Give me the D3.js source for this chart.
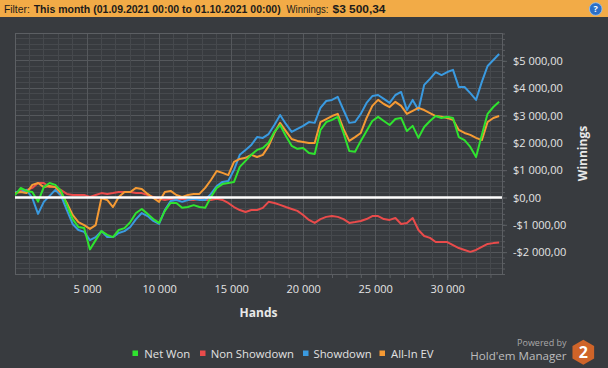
<!DOCTYPE html>
<html><head><meta charset="utf-8">
<script src="https://cdn.jsdelivr.net/npm/d3@7"></script>
<style>html,body{margin:0;padding:0;background:#383b3f;overflow:hidden}</style>
</head><body><svg id="c" width="608" height="368"></svg>
<script>
const hands = [0,400,800,1200,1600,2000,2400,2800,3200,3600,4000,4400,4800,5200,5600,6000,6400,6800,7200,7600,8000,8400,8800,9200,9600,10000,10400,10800,11200,11600,12000,12400,12800,13200,13600,14000,14400,14800,15200,15600,16000,16400,16800,17200,17600,18000,18400,18800,19200,19600,20000,20400,20800,21200,21600,22000,22400,22800,23200,23600,24000,24400,24800,25200,25600,26000,26400,26800,27200,27600,28000,28400,28800,29200,29600,30000,30400,30800,31200,31600,32000,32400,32800,33200,33600];
const netWon = [90,350,240,200,-150,380,530,460,240,-280,
-790,-1080,-1120,-1900,-1560,-1230,-1370,-1450,-1190,-1120,
-900,-570,-420,-600,-790,-930,-490,-200,-200,-380,
-350,-280,-350,-380,20,350,490,530,570,1120,
1340,1560,1740,1810,2000,2400,2650,2250,1890,1780,
1810,1630,1590,2470,2760,2840,2950,2360,1700,1670,
2070,2430,2800,2950,2800,2650,2870,2910,2430,2620,
2180,2580,2800,2980,2910,2950,2910,2210,2100,1850,
1480,2290,3060,3310,3500];
const nonShowdown = [160,240,270,350,530,530,380,380,270,130,
90,90,90,20,90,160,130,160,200,200,
200,160,160,90,20,-50,-90,-50,-90,-50,
-90,-90,-50,-90,-90,-50,-90,-200,-350,-460,
-530,-460,-460,-380,-160,-200,-270,-350,-420,-490,
-640,-820,-930,-790,-710,-680,-710,-790,-930,-900,
-860,-790,-680,-680,-790,-820,-750,-970,-930,-750,
-1190,-1410,-1480,-1630,-1630,-1630,-1740,-1850,-1920,-1990,
-1920,-1810,-1700,-1670,-1650];
const showdown = [200,200,280,-20,-600,-160,60,280,60,-460,
-970,-1190,-1260,-1560,-1450,-1230,-1450,-1450,-1300,-1230,
-1080,-790,-570,-680,-860,-970,-460,-130,-90,-160,
-90,-50,-90,-90,130,420,570,600,1010,1560,
1740,1920,2210,2180,2320,2650,3020,2690,2400,2510,
2620,2760,2730,3280,3530,3570,3680,3200,2730,2760,
3060,3460,3710,3750,3610,3460,3750,3860,3200,3570,
3200,4120,4340,4590,4480,4590,4670,4040,4040,3820,
3570,4230,4810,5030,5250];
const allInEV = [160,200,160,460,530,380,420,380,160,-200,
-640,-900,-1010,-1150,-1010,-20,-90,-350,20,200,
200,350,310,130,-20,-160,200,240,90,20,
90,130,130,350,640,970,900,820,1300,1410,
1450,1560,1480,1560,1880,2360,2730,2430,2140,2070,
2030,1990,1990,2760,2870,2980,3060,2510,2070,2210,
2360,2910,3350,3570,3420,3310,3500,3350,3060,3170,
3280,3200,3090,2980,2950,2910,2840,2470,2360,2290,
2180,2100,2760,2910,2980];
const seriesNames = ["Net Won","Non Showdown","Showdown","All-In EV"];
const seriesColors = ["#2fe32f","#e94b4b","#3a9ae0","#f59a34"];
const xTicks = [5000,10000,15000,20000,25000,30000];
const yTicks = [-2000,-1000,0,1000,2000,3000,4000,5000];
const headerParts = ["Filter:","This month (01.09.2021 00:00 to 01.10.2021 00:00)","Winnings:","$3 500,34"];

const W=608,H=368;
const svg=d3.select('#c');
const L=15,R=502,T=33.5,B=274;
const x=d3.scaleLinear().domain([0,33800]).range([L,R]);
const y=d3.scaleLinear().domain([-2800,6000]).range([B,T]);
const FONT="'Open Sans', 'Noto Sans', sans-serif";

svg.append('rect').attr('width',W).attr('height',H).attr('fill','#383b3f');
// header
svg.append('rect').attr('width',W).attr('height',17).attr('fill','#f2ab47');
const hx=[[3.9,25.9,false],[33.7,247,true],[286.5,42,false],[332.5,53,true]];
headerParts.forEach((t,i)=>{
  svg.append('text').attr('x',hx[i][0]).attr('y',12.6).text(t)
    .attr('font-family',"'Liberation Sans', Arial, sans-serif").attr('font-size',10.3)
    .attr('font-weight',hx[i][2]?'bold':'normal').attr('fill','#1b1b1b')
    .attr('textLength',hx[i][1]).attr('lengthAdjust','spacingAndGlyphs');
});
svg.append('circle').attr('cx',595.7).attr('cy',9).attr('r',6.3).attr('fill','#2b6fc8').attr('stroke','#9cc4f2').attr('stroke-width',0.8);
svg.append('text').attr('x',595.7).attr('y',12.3).attr('text-anchor','middle').text('?')
  .attr('font-family',FONT).attr('font-size',9).attr('font-weight','bold').attr('fill','#fff');

// grid
const grid=svg.append('g');
d3.range(-2800,6001,200).forEach(v=>{
  const major = v%1000===0;
  grid.append('line').attr('x1',L).attr('x2',R).attr('y1',y(v)).attr('y2',y(v))
    .attr('stroke',major?'#55585c':'#46494d').attr('stroke-width',1).attr('shape-rendering','crispEdges');
});
d3.range(1000,33801,1000).forEach(h=>{
  const major = h%5000===0;
  grid.append('line').attr('y1',T).attr('y2',B).attr('x1',x(h)).attr('x2',x(h))
    .attr('stroke',major?'#55585c':'#46494d').attr('stroke-width',1).attr('shape-rendering','crispEdges');
});
svg.append('rect').attr('x',L).attr('y',T).attr('width',R-L).attr('height',B-T)
  .attr('fill','none').attr('stroke','#5c5f63').attr('shape-rendering','crispEdges');

// axes
const loc=d3.formatLocale({decimal:",",thousands:" ",grouping:[3],currency:["$",""],minus:"-"});
const styleAxis=g=>{
  g.select('.domain').remove();
  g.selectAll('line').attr('stroke','#5c5f63');
  g.selectAll('text').attr('fill','#e4e4e4').attr('font-family',FONT).attr('font-size',11);
};
svg.append('g').attr('transform',`translate(0,${B})`)
  .call(d3.axisBottom(x).tickValues(d3.range(1000,33801,1000)).tickSize(4).tickFormat('')).call(styleAxis);
svg.append('g').attr('transform',`translate(0,${B})`)
  .call(d3.axisBottom(x).tickValues(xTicks).tickSize(6).tickPadding(5).tickFormat(loc.format(',d'))).call(styleAxis);
svg.append('g').attr('transform',`translate(${R},0)`)
  .call(d3.axisRight(y).tickValues(d3.range(-2800,6001,200)).tickSize(3).tickFormat('')).call(styleAxis);
svg.append('g').attr('transform',`translate(${R},0)`)
  .call(d3.axisRight(y).tickValues(yTicks).tickSize(5).tickPadding(6).tickFormat(loc.format('$,.2f'))).call(styleAxis);

svg.append('text').attr('x',(L+R)/2).attr('y',317).attr('text-anchor','middle').text('Hands')
  .attr('font-family',FONT).attr('font-size',12).attr('font-weight','bold').attr('fill','#e8e8e8');
svg.append('text').attr('transform','translate(587,153.5) rotate(-90)').attr('text-anchor','middle').text('Winnings')
  .attr('font-family',FONT).attr('font-size',12).attr('font-weight','bold').attr('fill','#e8e8e8');

// lines
svg.append('clipPath').attr('id','pc').append('rect').attr('x',L).attr('y',T).attr('width',R-L).attr('height',B-T);
const line=d3.line().x((d,i)=>x(hands[i])).y(d=>y(d));
const data=[netWon,nonShowdown,showdown,allInEV];
const order=[1,2,3,0];
const lg=svg.append('g').attr('clip-path','url(#pc)');
order.forEach(k=>{
  lg.append('path').attr('d',line(data[k])).attr('fill','none')
    .attr('stroke',seriesColors[k]).attr('stroke-width',2).attr('stroke-linejoin','round');
});
svg.append('line').attr('x1',L).attr('x2',R).attr('y1',y(0)).attr('y2',y(0))
  .attr('stroke','#ffffff').attr('stroke-width',2.5);

// legend
const legX=[[132.5,144.3],[200,210.7],[303,313.5],[379.5,391]];
seriesNames.forEach((n,i)=>{
  svg.append('rect').attr('x',legX[i][0]).attr('y',350.5).attr('width',5.5).attr('height',5.5).attr('fill',seriesColors[i]);
  svg.append('text').attr('x',legX[i][1]).attr('y',358).text(n)
    .attr('font-family',FONT).attr('font-size',11.3).attr('fill','#e2e2e2');
});
svg.append('text').attr('x',566.5).attr('y',345.5).attr('text-anchor','end').text('Powered by')
  .attr('font-family',FONT).attr('font-size',9).attr('fill','#a8a8a8');
svg.append('text').attr('x',566.5).attr('y',359.5).attr('text-anchor','end').text("Hold'em Manager")
  .attr('font-family',FONT).attr('font-size',11.6).attr('fill','#bdbdbd');
const cx=583.3, cy=352.3, r=12.5;
const hex=d3.range(6).map(k=>{const a=(-90+60*k)*Math.PI/180;return [cx+r*Math.cos(a),cy+r*Math.sin(a)];});
svg.append('polygon').attr('points',hex.map(p=>p.join(',')).join(' ')).attr('fill','#cf6429');
svg.append('text').attr('x',cx).attr('y',cy+5.6).attr('text-anchor','middle').text('2')
  .attr('font-family',FONT).attr('font-size',16).attr('font-weight','bold').attr('fill','#ffffff');
</script></body></html>
